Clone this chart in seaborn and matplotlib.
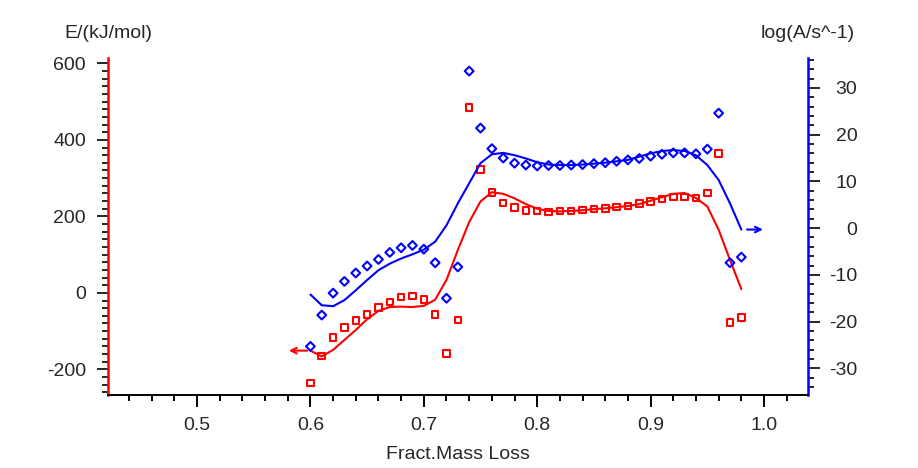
import numpy as np
import pandas as pd
import matplotlib
matplotlib.use("Agg")
import matplotlib.pyplot as plt
from matplotlib.ticker import MultipleLocator, FixedLocator
import seaborn as sns

# ---------------- data ----------------
frac_pts = [0.60, 0.61, 0.62, 0.63, 0.64, 0.65, 0.66, 0.67, 0.68, 0.69,
            0.70, 0.71, 0.72, 0.73, 0.74, 0.75, 0.76, 0.77, 0.78, 0.79,
            0.80, 0.81, 0.82, 0.83, 0.84, 0.85, 0.86, 0.87, 0.88, 0.89,
            0.90, 0.91, 0.92, 0.93, 0.94, 0.95, 0.96, 0.97, 0.98]
E_pts = [-235, -165, -117, -90, -72, -57, -38, -24, -11, -8,
         -18, -56, -159, -71, 484, 322, 263, 235, 223, 216,
         214, 211, 214, 214, 217, 219, 221, 224, 227, 233,
         239, 246, 250, 251, 248, 261, 365, -77, -65]
logA_pts = [-25.3, -18.6, -13.9, -11.4, -9.6, -8.1, -6.7, -5.2, -4.2, -3.7,
            -4.5, -7.4, -15.0, -8.3, 33.6, 21.4, 17.0, 15.0, 13.9, 13.5,
            13.3, 13.4, 13.4, 13.5, 13.6, 13.8, 14.0, 14.3, 14.6, 14.9,
            15.4, 15.8, 16.1, 16.1, 15.9, 16.9, 24.6, -7.4, -6.2]

E_fit = [-151, -166, -149, -123, -97, -69, -47, -37, -36, -37,
         -34, -18, 34, 112, 185, 239, 263, 259, 247, 232,
         220, 214, 213, 214, 216, 219, 221, 224, 227, 232,
         241, 250, 259, 261, 248, 226, 165, 86, 10]
logA_fit = [-14.2, -16.5, -16.7, -15.4, -13.3, -11.1, -9.0, -7.6, -6.5, -5.6,
            -4.6, -2.9, 0.6, 5.3, 9.6, 13.9, 15.8, 16.1, 15.6, 14.9,
            14.1, 13.6, 13.5, 13.5, 13.6, 13.8, 14.0, 14.3, 14.6, 15.3,
            16.0, 16.5, 16.7, 16.5, 15.6, 13.5, 10.3, 5.3, -0.3]

x_major = [0.5, 0.6, 0.7, 0.8, 0.9, 1.0]
x_labels = ["0.5", "0.6", "0.7", "0.8", "0.9", "1.0"]
E_major = [-200, 0, 200, 400, 600]
logA_major = [-30, -20, -10, 0, 10, 20, 30]

df = pd.DataFrame({"frac": frac_pts, "E": E_pts, "logA": logA_pts,
                   "E_fit": E_fit, "logA_fit": logA_fit})

# ---------------- style ----------------
sns.set_style("ticks")
plt.rcParams["font.family"] = ["Liberation Sans", "DejaVu Sans"]
plt.rcParams["axes.unicode_minus"] = False
FS = 14

fig = plt.figure(figsize=(9.18, 4.68), dpi=100)
ax = fig.add_axes([108 / 918, 1 - 395 / 468, 700 / 918, 337 / 468])
ax2 = ax.twinx()

RED = "#ff0000"
BLUE = "#0000ff"

sns.lineplot(data=df, x="frac", y="E_fit", ax=ax, color=RED, linewidth=1.5)
sns.scatterplot(data=df, x="frac", y="E", ax=ax, marker="s", s=22,
                color=RED, facecolor="none", edgecolor=RED, linewidth=1.5,
                zorder=3)
sns.lineplot(data=df, x="frac", y="logA_fit", ax=ax2, color=BLUE, linewidth=1.5)
sns.scatterplot(data=df, x="frac", y="logA", ax=ax2, marker="D", s=20,
                color=BLUE, facecolor="none", edgecolor=BLUE, linewidth=1.5,
                zorder=3)

# arrows indicating axis association
x0, y0 = frac_pts[0], E_fit[0]
ax.annotate("", xy=(x0 - 0.019, y0), xytext=(x0 - 0.003, y0),
            arrowprops=dict(arrowstyle="->", color=RED, lw=1.5,
                            shrinkA=0, shrinkB=0))
x1, y1 = frac_pts[-1], logA_fit[-1]
ax2.annotate("", xy=(x1 + 0.019, y1), xytext=(x1 + 0.005, y1),
             arrowprops=dict(arrowstyle="->", color=BLUE, lw=1.5,
                             shrinkA=0, shrinkB=0))

# limits
ax.set_xlim(0.4215, 1.0388)
ax.set_ylim(-267, 614)
ax2.set_ylim(-35.7, 36.4)

# spines
for a in (ax, ax2):
    a.spines["top"].set_visible(False)
    a.spines["bottom"].set_color("black")
    a.spines["bottom"].set_linewidth(1.2)
ax.spines["right"].set_visible(False)
ax.spines["left"].set_color(RED)
ax.spines["left"].set_linewidth(1.8)
ax2.spines["left"].set_visible(False)
ax2.spines["right"].set_color(BLUE)
ax2.spines["right"].set_linewidth(1.8)

# ticks
ax.xaxis.set_major_locator(FixedLocator(x_major))
ax.set_xticklabels(x_labels)
ax.xaxis.set_minor_locator(MultipleLocator(0.02))
ax.yaxis.set_major_locator(FixedLocator(E_major))
ax.yaxis.set_minor_locator(MultipleLocator(20))
ax2.set_yticks(logA_major)
ax2.set_yticklabels([str(v) for v in logA_major])
ax2.yaxis.set_minor_locator(MultipleLocator(2))

ax.tick_params(axis="x", which="major", direction="out", length=8.5, width=1.4,
               color="black", labelsize=FS, pad=7)
ax.tick_params(axis="x", which="minor", direction="out", length=4.5, width=1.4,
               color="black")
ax.tick_params(axis="y", which="major", direction="out", length=8, width=1.2,
               color="black", labelsize=FS, pad=8)
ax.tick_params(axis="y", which="minor", direction="out", length=4.5, width=1.2,
               color="black")
ax2.tick_params(axis="y", which="minor", direction="out", length=4.5, width=1.2,
                color="black")
ax2.tick_params(axis="y", which="major", direction="out", length=8.5, width=1.2,
                color="black", labelsize=FS, pad=27)
for lab in ax2.get_yticklabels():
    lab.set_horizontalalignment("right")

# labels
ax.set_xlabel("Fract.Mass Loss", fontsize=FS, labelpad=9)
ax.set_ylabel("E/(kJ/mol)", fontsize=FS, rotation=0, ha="center", va="center")
ax.yaxis.set_label_coords(0, 1.074)
ax2.set_ylabel("log(A/s^-1)", fontsize=FS, rotation=0, ha="center", va="center")
ax2.yaxis.set_label_coords(1, 1.074)

fig.savefig("out.png", dpi=100)
